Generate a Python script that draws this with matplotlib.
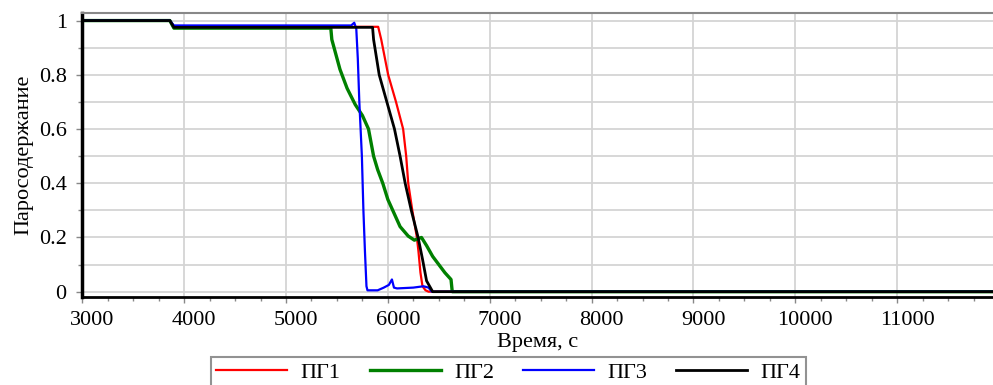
import matplotlib
matplotlib.use("Agg")
import matplotlib.pyplot as plt
from matplotlib.ticker import MultipleLocator, FuncFormatter
from matplotlib.transforms import ScaledTranslation

# Steam quality in each steam generator over time
t_pg1 = [3000, 3860, 3900, 5905, 5935, 6003, 6080, 6150, 6180, 6200, 6240, 6285, 6300, 6320, 6340, 6370, 6400, 12000]
x_pg1 = [1.0, 1.0, 0.977, 0.977, 0.93, 0.8, 0.7, 0.6, 0.5, 0.4, 0.3, 0.2, 0.15, 0.07, 0.02, 0.005, 0.0, 0.0]

t_pg2 = [3000, 3860, 3900, 5440, 5450, 5530, 5600, 5680, 5750, 5810, 5860, 5900, 5950, 6000, 6060,
         6120, 6200, 6260, 6330, 6380, 6440, 6500, 6560, 6620, 6632, 12000]
x_pg2 = [1.0, 1.0, 0.972, 0.972, 0.93, 0.82, 0.75, 0.69, 0.65, 0.6, 0.5, 0.45, 0.4, 0.34, 0.29,
         0.24, 0.205, 0.19, 0.2, 0.17, 0.13, 0.1, 0.07, 0.045, 0.0, 0.0]

t_pg3 = [3000, 3860, 3900, 5640, 5670, 5690, 5705, 5720, 5745, 5760, 5775, 5790, 5800, 5900, 5960,
         6010, 6040, 6060, 6090, 6250, 6350, 6400, 6430, 12000]
x_pg3 = [1.0, 1.0, 0.982, 0.982, 0.992, 0.97, 0.86, 0.7, 0.5, 0.3, 0.15, 0.02, 0.005, 0.005, 0.015,
         0.025, 0.045, 0.015, 0.012, 0.015, 0.02, 0.015, 0.0, 0.0]

t_pg4 = [3000, 3860, 3900, 5850, 5860, 5915, 5990, 6065, 6120, 6170, 6230, 6297, 6340, 6380, 6440, 12000]
x_pg4 = [1.0, 1.0, 0.975, 0.975, 0.93, 0.8, 0.7, 0.6, 0.5, 0.4, 0.3, 0.2, 0.12, 0.04, 0.0, 0.0]

labels = ["ПГ1", "ПГ2", "ПГ3", "ПГ4"]

plt.rcParams['font.family'] = ['Liberation Serif', 'DejaVu Serif']

fig = plt.figure(figsize=(9.93, 3.85), dpi=100)
ax = fig.add_axes([0.0826, 0.2286, 0.9174, 0.7377])

ax.plot(t_pg1, x_pg1, color="#ff0000", lw=1.6, label=labels[0])
ax.plot(t_pg2, x_pg2, color="#008000", lw=2.4, label=labels[1])
ax.plot(t_pg3, x_pg3, color="#0000ff", lw=1.6, label=labels[2])
ax.plot(t_pg4, x_pg4, color="#000000", lw=2.0, label=labels[3])

ax.set_xlim(2998, 11940)
ax.set_ylim(-0.0196, 1.028)

ax.xaxis.set_major_locator(MultipleLocator(1000))
ax.xaxis.set_minor_locator(MultipleLocator(250))
ax.yaxis.set_major_locator(MultipleLocator(0.2))
ax.yaxis.set_minor_locator(MultipleLocator(0.1))
ax.yaxis.set_major_formatter(FuncFormatter(lambda v, p: f"{v:g}"))

ax.grid(True, which="major", color="#d4d4d4", lw=1.3)
ax.grid(True, which="minor", axis="y", color="#d4d4d4", lw=1.3)
ax.set_axisbelow(True)

ax.tick_params(axis="both", which="major", labelsize=16, length=4, width=1, color="#888888")
ax.tick_params(axis="both", which="minor", length=3, width=1, color="#888888")
ax.tick_params(axis="x", pad=6)
ax.tick_params(axis="y", pad=7)

# shift x tick labels a little to the right
offset = ScaledTranslation(0.1, 0, fig.dpi_scale_trans)
for lbl in ax.get_xticklabels():
    lbl.set_transform(lbl.get_transform() + offset)

ax.spines["left"].set_color("black")
ax.spines["left"].set_linewidth(2.5)
ax.spines["bottom"].set_color("black")
ax.spines["bottom"].set_linewidth(2.0)
ax.spines["top"].set_color("#888888")
ax.spines["top"].set_linewidth(1.5)
ax.spines["right"].set_visible(False)

ax.set_xlabel("Время, с", fontsize=16, labelpad=2)
ax.set_ylabel("Паросодержание", fontsize=16, labelpad=4)

leg = fig.legend(loc="upper center", bbox_to_anchor=(0.512, 0.102), ncol=4, fontsize=16,
                 frameon=True, fancybox=False, edgecolor="#777777", handlelength=3.2,
                 columnspacing=1.3, borderpad=0.25, handletextpad=0.6)
leg.get_frame().set_linewidth(1.5)

fig.savefig("out.png", dpi=100)
